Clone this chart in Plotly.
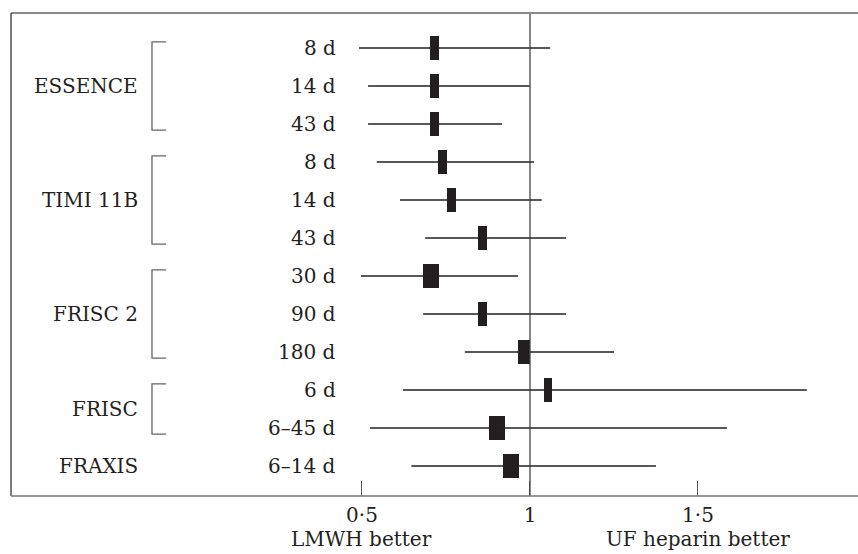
import plotly.graph_objects as go

# Odds ratios (LMWH vs unfractionated heparin) with 95% confidence limits
studies = ["ESSENCE", "TIMI 11B", "FRISC 2", "FRISC", "FRAXIS"]
timepoints = ["8 d", "14 d", "43 d", "8 d", "14 d", "43 d",
              "30 d", "90 d", "180 d", "6 d", "6–45 d", "6–14 d"]
odds_ratio = [0.717, 0.717, 0.717, 0.739, 0.765, 0.860,
              0.705, 0.860, 0.982, 1.054, 0.902, 0.943]
ci_lower = [0.491, 0.518, 0.518, 0.544, 0.613, 0.688,
            0.497, 0.682, 0.806, 0.622, 0.524, 0.647]
ci_upper = [1.060, 1.000, 0.917, 1.012, 1.035, 1.107,
            0.964, 1.107, 1.250, 1.824, 1.586, 1.375]
# rows covered by each study (first, last)
study_rows = [(0, 2), (3, 5), (6, 8), (9, 10), (11, 11)]
tick_vals = [0.5, 1, 1.5]
tick_text = ["0·5", "1", "1·5"]

# box widths (in x units) for the point estimates
box_w = [0.027, 0.027, 0.027, 0.027, 0.027, 0.027,
         0.048, 0.027, 0.036, 0.024, 0.048, 0.048]

FONT = "DejaVu Serif"
FS = 20
INK = "#231f20"
rows = list(range(len(timepoints)))

fig = go.Figure()

# confidence interval lines
for i in rows:
    fig.add_trace(go.Scatter(
        x=[ci_lower[i], ci_upper[i]], y=[i, i], mode="lines",
        line=dict(color=INK, width=1.5), showlegend=False, hoverinfo="skip"))

# point estimate boxes
fig.add_trace(go.Bar(
    orientation="h", y=rows, x=box_w,
    base=[o - w / 2 for o, w in zip(odds_ratio, box_w)],
    width=0.62, marker=dict(color=INK, line=dict(width=0)),
    showlegend=False, hoverinfo="skip"))

shapes = []
annotations = []

# line of no effect
shapes.append(dict(type="line", xref="x", yref="paper", x0=1, x1=1, y0=0, y1=1,
                   line=dict(color="#444", width=1.3)))
# frame: top, left, bottom
shapes.append(dict(type="line", xref="paper", yref="paper", x0=0, x1=1, y0=1, y1=1,
                   line=dict(color="#8a8a8a", width=2)))
shapes.append(dict(type="line", xref="paper", yref="paper", x0=0, x1=0, y0=0, y1=1,
                   line=dict(color="#333", width=1.3)))
shapes.append(dict(type="line", xref="paper", yref="paper", x0=0, x1=1, y0=0, y1=0,
                   line=dict(color="#777", width=1.5)))

# timepoint labels
for i, t in enumerate(timepoints):
    annotations.append(dict(x=0.4286, y=i, xref="x", yref="y", text=t,
                            showarrow=False, xanchor="right", yanchor="middle",
                            font=dict(family=FONT, size=FS, color=INK)))

# study names and brackets
for name, (r0, r1) in zip(studies, study_rows):
    annotations.append(dict(x=-0.161, y=(r0 + r1) / 2, xref="x", yref="y", text=name,
                            showarrow=False, xanchor="right", yanchor="middle",
                            font=dict(family=FONT, size=FS, color=INK)))
    if r1 > r0:
        ya, yb = r0 - 0.16, r1 + 0.16
        shapes.append(dict(type="path", xref="x", yref="y",
                           path=f"M -0.083,{ya} L -0.125,{ya} L -0.125,{yb} L -0.083,{yb}",
                           line=dict(color="#666", width=1.3)))

# direction labels under the axis
for xv, label in [(0.5, "LMWH better"), (1.5, "UF heparin better")]:
    annotations.append(dict(x=xv, y=0, xref="x", yref="paper", text=label,
                            showarrow=False, xanchor="center", yanchor="bottom",
                            yshift=-57,
                            font=dict(family=FONT, size=FS, color=INK)))

fig.update_layout(
    width=858, height=554,
    margin=dict(l=11, r=0, t=13, b=58),
    paper_bgcolor="white", plot_bgcolor="white",
    shapes=shapes, annotations=annotations,
    bargap=0,
    xaxis=dict(range=[-0.5446, 1.9762], tickvals=tick_vals, ticktext=tick_text,
               ticks="inside", ticklen=15, tickwidth=1.3, tickcolor="#555",
               ticklabelstandoff=5,
               showgrid=False, zeroline=False, showline=False,
               tickfont=dict(family=FONT, size=FS, color=INK)),
    yaxis=dict(range=[11.79, -0.92], showticklabels=False, showgrid=False,
               zeroline=False, showline=False, ticks=""),
)

fig.write_html("out.html")
